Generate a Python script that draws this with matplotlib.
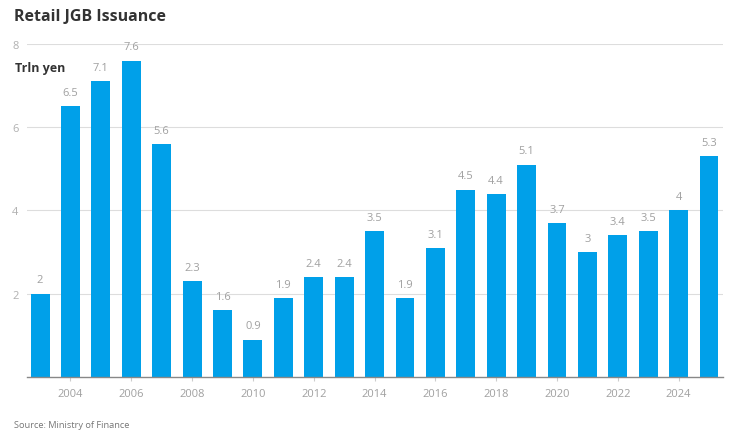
import matplotlib
matplotlib.use("Agg")
import matplotlib.pyplot as plt

plt.rcParams['font.family'] = ['Open Sans', 'DejaVu Sans']

# data (trillion yen)
years = list(range(2003, 2026))
values = [2, 6.5, 7.1, 7.6, 5.6, 2.3, 1.6, 0.9, 1.9, 2.4, 2.4, 3.5, 1.9,
          3.1, 4.5, 4.4, 5.1, 3.7, 3, 3.4, 3.5, 4, 5.3]
labels = ["2", "6.5", "7.1", "7.6", "5.6", "2.3", "1.6", "0.9", "1.9", "2.4",
          "2.4", "3.5", "1.9", "3.1", "4.5", "4.4", "5.1", "3.7", "3", "3.4",
          "3.5", "4", "5.3"]
year_ticks = list(range(2004, 2026, 2))
y_ticks = [2, 4, 6, 8]

bar_color = "#00a0e9"
grey = "#a0a0a0"

fig = plt.figure(figsize=(7.5, 4.35), dpi=100)
ax = fig.add_axes([0.036, 0.131, 0.928, 0.7656])

ax.bar(years, values, width=0.62, color=bar_color, zorder=3)
for x, v, lab in zip(years, values, labels):
    ax.text(x, v + 0.2, lab, ha="center", va="bottom", fontsize=8, color=grey)

ax.set_ylim(0, 8)
ax.set_xlim(years[0] - 0.43, years[-1] + 0.46)
ax.set_yticks(y_ticks)
ax.set_xticks(year_ticks)
ax.set_xticklabels([str(y) for y in year_ticks])
ax.grid(axis="y", color="#dddddd", linewidth=0.8, zorder=0)
for s in ["top", "right", "left"]:
    ax.spines[s].set_visible(False)
ax.spines["bottom"].set_color("#888888")
ax.spines["bottom"].set_linewidth(1.0)
ax.spines["bottom"].set_zorder(4)
ax.tick_params(axis="y", length=0, labelsize=8, labelcolor="#b0b0b0", pad=6)
ax.tick_params(axis="x", length=3, color="#cccccc", labelsize=8,
               labelcolor=grey, pad=5)
for lab in ax.get_yticklabels():
    lab.set_horizontalalignment("right")

fig.text(0.019, 0.962, "Retail JGB Issuance", fontsize=11.5, fontweight="bold",
         color="#333333", va="center", ha="left")
fig.text(0.02, 0.842, "Trln yen", fontsize=9, fontweight="bold",
         color="#333333", va="center", ha="left")
fig.text(0.019, 0.022, "Source: Ministry of Finance", fontsize=6.7,
         color="#777777", va="center", ha="left")

fig.savefig("out.png", dpi=100)
